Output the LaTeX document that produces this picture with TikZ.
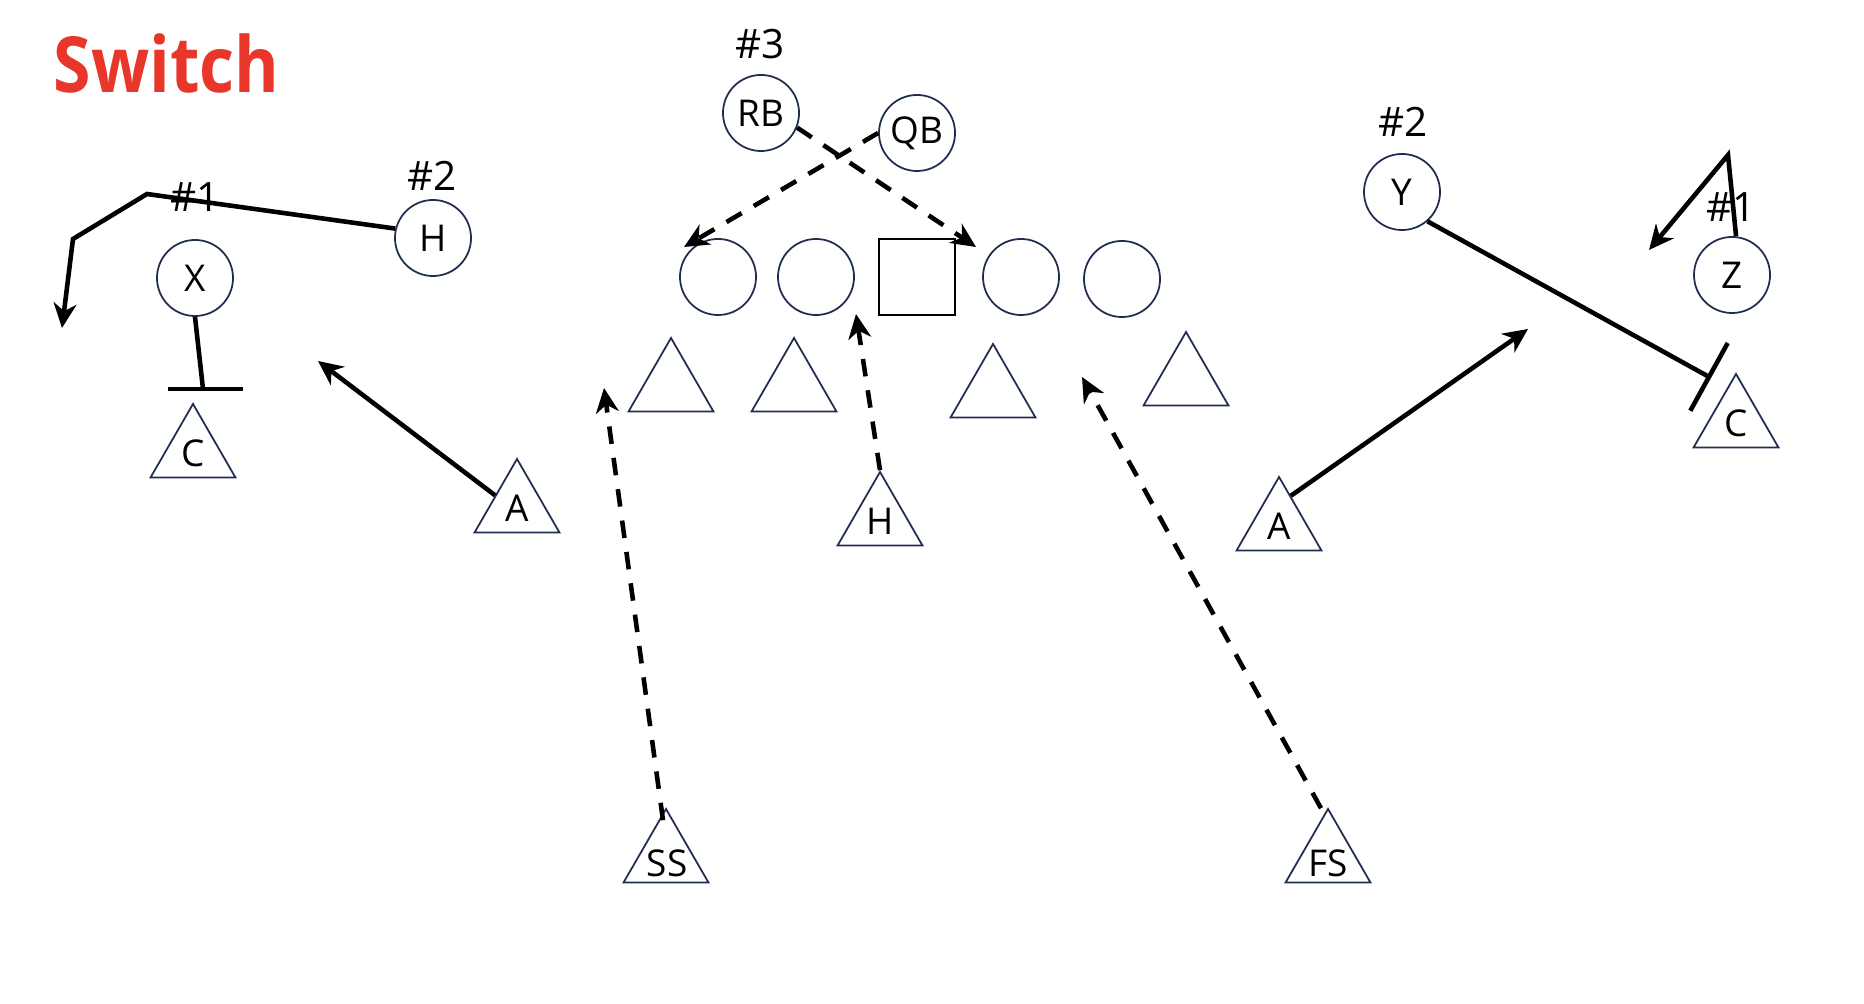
\documentclass[tikz,border=0pt]{standalone}
\usepackage{fontspec}
\setmainfont{Open Sans}
\newfontfamily\titlefont[FakeStretch=0.88]{Open Sans}
\usetikzlibrary{arrows.meta,shapes.geometric,calc}
\definecolor{navy}{RGB}{31,45,78}
\definecolor{swred}{RGB}{232,54,42}
\begin{document}
\begin{tikzpicture}[x=0.01cm,y=-0.01cm,
 player/.style={circle,draw=navy,line width=0.5pt,minimum size=0.76cm,inner sep=0pt,font=\fontsize{10.5pt}{12pt}\selectfont},
 defender/.style={regular polygon,regular polygon sides=3,draw=navy,line width=0.5pt,minimum size=0.98cm,inner sep=0pt,font=\fontsize{10.5pt}{12pt}\selectfont},
 deflabel/.style={font=\fontsize{10.5pt}{12pt}\selectfont,inner sep=0pt},
 centerbox/.style={rectangle,draw=black,line width=0.6pt,minimum size=0.76cm,inner sep=0pt},
 numlabel/.style={font=\fontsize{11.5pt}{13pt}\selectfont,inner sep=0pt},
 route/.style={line width=1.3pt,-{Stealth[length=7pt,width=6.5pt,inset=2.2pt]}},
 plainroute/.style={line width=1.3pt},
 block/.style={line width=1.3pt,-{Bar[width=22pt]}},
 dashroute/.style={route,dash pattern=on 5pt off 4pt},
]
\useasboundingbox (0,0) rectangle (1864,1004);

% title
\node[anchor=base west,font=\titlefont\fontsize{22pt}{26pt}\selectfont\bfseries,text=swred,inner sep=0pt] (title) at (53,93) {Switch};

% offense
\node[player] (X) at (195,278) {X};
\node[player] (H) at (433,238) {H};
\node[player] (RB) at (761,113) {RB};
\node[player] (QB) at (917,133) {QB};
\node[player] (L1) at (718,277) {};
\node[player] (L2) at (816,277) {};
\node[centerbox] (CT) at (917,277) {};
\node[player] (L4) at (1021,277) {};
\node[player] (L5) at (1122,279) {};
\node[player] (Y) at (1402,192) {Y};
\node[player] (Z) at (1732,275) {Z};

% number labels
\node[numlabel] (n1l) at (195,197) {\#1};
\node[numlabel] (n2l) at (432,176) {\#2};
\node[numlabel] (n3) at (760,44) {\#3};
\node[numlabel] (n2r) at (1403,122) {\#2};
\node[numlabel] (n1r) at (1731,207) {\#1};

% defense
\node[defender] (CL) at (193,453) {C};
\node[defender] (AL) at (517,508) {A};
\node[defender] (D1) at (671,387) {};
\node[defender] (D2) at (794,387) {};
\node[defender] (D3) at (993,393) {};
\node[defender] (D4) at (1186,381) {};
\node[defender] (HT) at (880,521) {H};
\node[defender] (AR) at (1279,526) {A};
\node[defender] (CR) at (1736,423) {C};
\node[defender] (SS) at (666,858) {};
\node[deflabel] (SSl) at (667,863) {SS};
\node[defender] (FS) at (1328,858) {};
\node[deflabel] (FSl) at (1328,863) {FS};

% route points
\coordinate (h1) at (147,194);
\coordinate (h2) at (73,239);
\coordinate (h3) at (62,328);
\coordinate (xb) at (203,389);
\coordinate (xbl) at (168,389);
\coordinate (xbr) at (243,389);
\coordinate (alt) at (318,361);
\coordinate (art) at (1528,329);
\coordinate (yb) at (1711,378);
\coordinate (z1) at (1728,155);
\coordinate (z2) at (1649,250);
\coordinate (qbt) at (684,247);
\coordinate (rbt) at (976,247);
\coordinate (htt) at (856,314);
\coordinate (sst) at (604,388);
\coordinate (fst) at (1082,377);

% solid routes
\draw[route] (H.166) -- (h1) -- (h2) -- (h3);
\draw[plainroute] (X.south) -- (xb);
\draw[plainroute] (xbl) -- (xbr);
\draw[route] (AL.side 1) -- (alt);
\draw[route] ($(AR.corner 1)!0.27!(AR.corner 3)$) -- (art);
\draw[block] (Y.311) -- (yb);
\draw[route] (Z.84) -- (z1) -- (z2);

% dashed routes
\draw[dashroute] (QB.west) -- (qbt);
\draw[dashroute] (RB.-22) -- (rbt);
\draw[dashroute] (HT.corner 1) -- (htt);
\draw[dashroute] ($(SS.corner 1)+(-3,13)$) -- (sst);
\draw[dashroute] ($(FS.corner 1)+(-7,1)$) -- (fst);
\end{tikzpicture}
\end{document}
